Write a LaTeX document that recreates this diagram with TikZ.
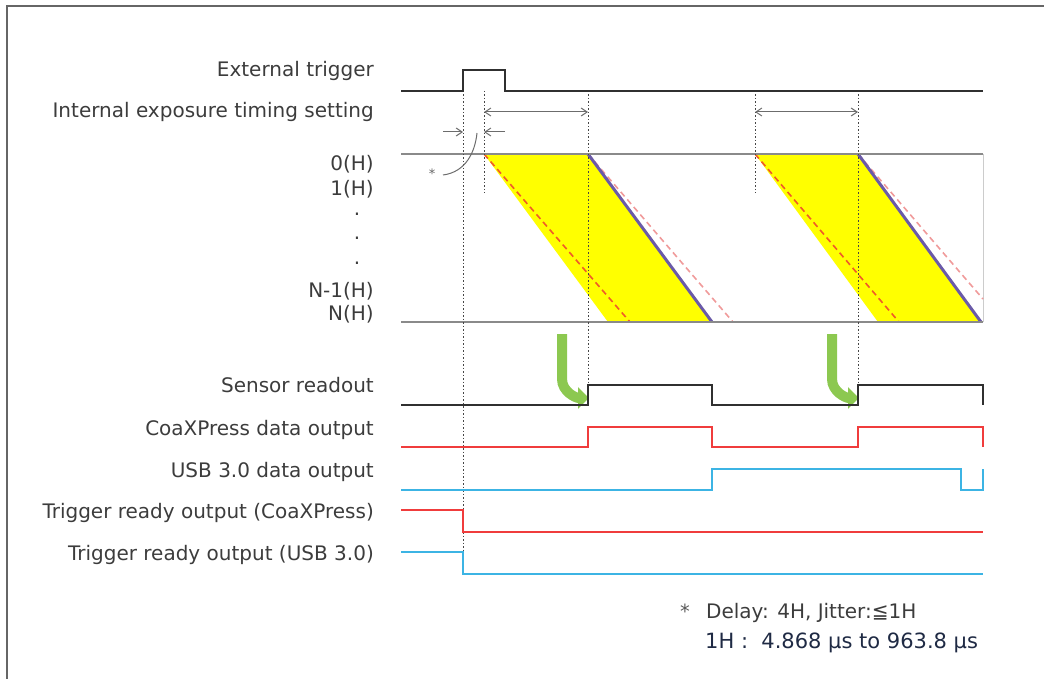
\documentclass[tikz,border=0pt]{standalone}
\usepackage{fontspec}
\setmainfont{DejaVu Sans}
\usetikzlibrary{arrows.meta}

\definecolor{labelgray}{HTML}{3C3C3C}
\definecolor{sigblack}{HTML}{303030}
\definecolor{rowgray}{HTML}{8A8A8A}
\definecolor{sigred}{HTML}{F03C3C}
\definecolor{sigblue}{HTML}{3CB4E4}
\definecolor{expyellow}{HTML}{FFFF00}
\definecolor{dashred}{HTML}{F05A28}
\definecolor{dashpink}{HTML}{F09A9A}
\definecolor{readpurple}{HTML}{6A5AA8}
\definecolor{arrowgreen}{HTML}{8CC850}
\definecolor{notenavy}{HTML}{1F2A44}

\tikzset{
  lbl/.style={anchor=base east, inner sep=0pt, text=labelgray, font=\fontsize{20}{23}\selectfont},
  sig/.style={line width=2pt, line join=miter},
  guide/.style={line width=1pt, gray!55!black, dash pattern=on 1.5pt off 2pt},
  span/.style={line width=1pt, gray!85!black, {Straight Barb[length=6pt,width=8pt]}-{Straight Barb[length=6pt,width=8pt]}},
  pointer/.style={line width=1pt, gray!85!black, -{Straight Barb[length=6pt,width=8pt]}},
  rowline/.style={line width=2pt, rowgray},
  edgered/.style={line width=1.6pt, dashred, dash pattern=on 6pt off 4pt},
  edgepink/.style={line width=1.6pt, dashpink, dash pattern=on 6pt off 4pt},
  bendarrow/.style={line width=10pt, arrowgreen, -{Triangle[length=11pt,width=21pt]}}
}

\begin{document}
\begin{tikzpicture}[x=1pt,y=-1pt]
    \useasboundingbox (0,0) rectangle (1044,679);

    % Frame
    \draw[line width=1.5pt, gray!80!black] (7,679) -- (7,6) -- (1044,6);

    % Signal names
    \node[lbl] (lblext) at (374,77) {External trigger};
    \node[lbl] (lblexp) at (374,118) {Internal exposure timing setting};
    \node[lbl] (lblrow0) at (374,171) {0(H)};
    \node[lbl] (lblrow1) at (374,196) {1(H)};
    \foreach \y [count=\k] in {215,240,265}
        \node[lbl, anchor=base] (lbldot\k) at (357,\y) {.};
    \node[lbl] (lblrowm) at (374,297) {N-1(H)};
    \node[lbl] (lblrown) at (374,320) {N(H)};
    \node[lbl] (lblread) at (374,392) {Sensor readout};
    \node[lbl] (lblcxp) at (374,435) {CoaXPress data output};
    \node[lbl] (lblusb) at (374,477) {USB 3.0 data output};
    \node[lbl] (lblrdycxp) at (374,518) {Trigger ready output (CoaXPress)};
    \node[lbl] (lblrdyusb) at (374,560) {Trigger ready output (USB 3.0)};

    % Exposure parallelograms
    \fill[expyellow] (484,154) -- (588,154) -- (712,322) -- (608,322) -- cycle;
    \fill[expyellow] (755,154) -- (858,154) -- (981,322) -- (878,322) -- cycle;
    \draw[line width=0.6pt, gray!40] (983,154) -- (983,322);
    \draw[edgered] (484,154) -- (630,322);
    \draw[edgered] (755,154) -- (899,322);
    \draw[edgepink] (588,154) -- (733,322);
    \draw[edgepink] (858,154) -- (983,299);
    \draw[line width=3pt, readpurple] (588,154) -- (712,322);
    \draw[line width=3pt, readpurple] (858,154) -- (981,322);

    % Row lines
    \draw[rowline] (401,154) -- (983,154);
    \draw[rowline] (401,322) -- (983,322);

    % Guides
    \draw[guide] (463,91) -- (463,574);
    \draw[guide] (484,91) -- (484,193);
    \draw[guide] (588,91) -- (588,385);
    \draw[guide] (755,91) -- (755,193);
    \draw[guide] (858,91) -- (858,385);

    % Exposure spans and delay
    \draw[span] (484,112) -- (588,112);
    \draw[span] (755,112) -- (858,112);
    \draw[pointer] (443,132) -- (463,132);
    \draw[pointer] (505,132) -- (484,132);
    \draw[line width=1pt, gray!85!black] (443,175) .. controls (466,172) and (475,152) .. (477,133);
    \node[text=gray!80!black, font=\fontsize{13}{15}\selectfont, inner sep=0pt] (star) at (432,174) {*};

    % Readout start arrows
    \draw[bendarrow] (562,334) -- (562,379) to[out=-90,in=180] (589,398);
    \draw[bendarrow] (832,334) -- (832,379) to[out=-90,in=180] (859,398);

    % Waveforms
    \draw[sig, sigblack] (401,91) -- (463,91) -- (463,70) -- (505,70) -- (505,91) -- (983,91);
    \draw[sig, sigblack] (401,405) -- (588,405) -- (588,385) -- (712,385) -- (712,405)
        -- (858,405) -- (858,385) -- (983,385) -- (983,405);
    \draw[sig, sigred] (401,447) -- (588,447) -- (588,427) -- (712,427) -- (712,447)
        -- (858,447) -- (858,427) -- (983,427) -- (983,447);
    \draw[sig, sigblue] (401,490) -- (712,490) -- (712,469) -- (961,469) -- (961,490)
        -- (983,490) -- (983,469);
    \draw[sig, sigred] (401,510) -- (463,510) -- (463,532) -- (983,532);
    \draw[sig, sigblue] (401,552) -- (463,552) -- (463,574) -- (983,574);

    % Note
    \node[anchor=base west, inner sep=0pt, text=gray!70!black, font=\fontsize{19.5}{22}\selectfont] (notestar) at (680,618) {*};
    \node[anchor=base west, inner sep=0pt, text=labelgray, font=\fontsize{20}{23}\selectfont] (notedelay) at (706,618) {Delay: 4H, Jitter:≦1H};
    \node[anchor=base west, inner sep=0pt, text=notenavy, font=\fontsize{21}{24}\selectfont] (noteunit) at (705,648) {1H :\ \ 4.868 μs to 963.8 μs};

\end{tikzpicture}
\end{document}
